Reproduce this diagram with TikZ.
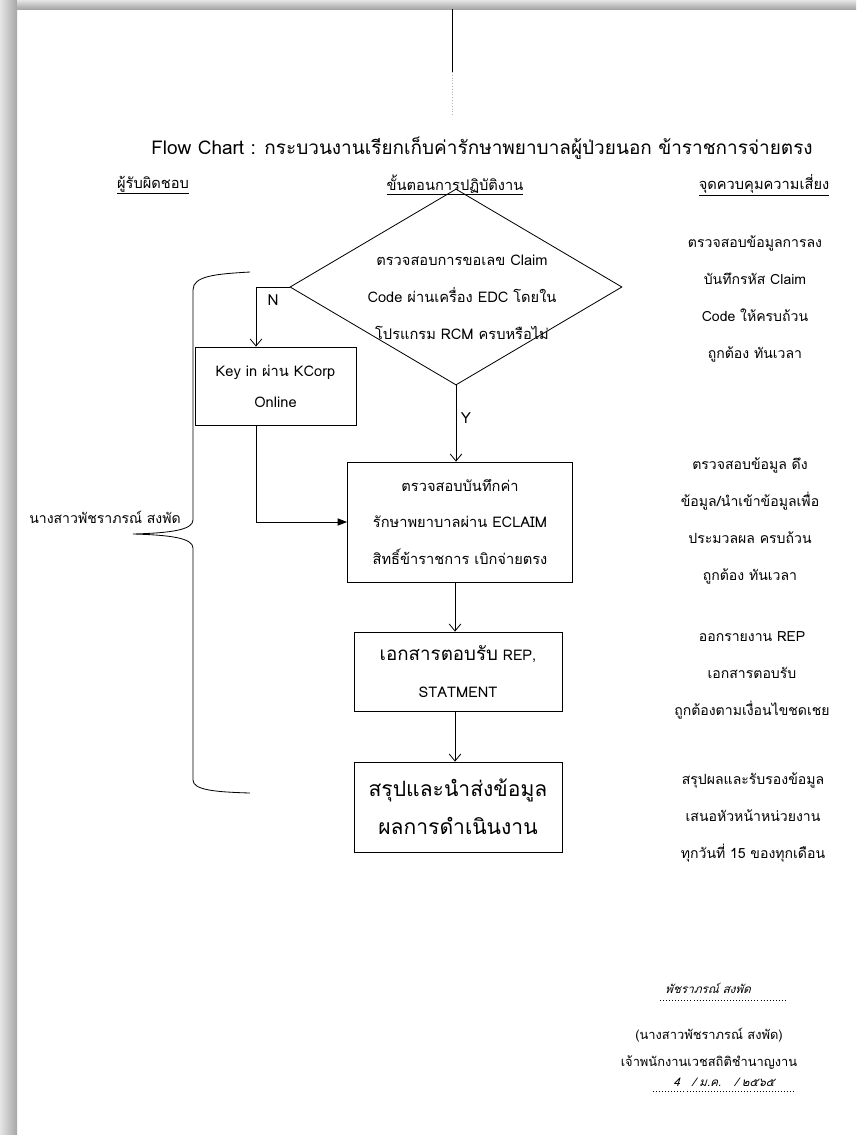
\documentclass[tikz,border=0pt]{standalone}
\usepackage{fontspec}
\setmainfont[Script=Thai]{Loma}
\newfontfamily\handfont[Script=Thai,FakeSlant=0.3]{Loma}
\usetikzlibrary{arrows.meta,shapes.geometric}

\tikzset{
  box/.style={draw,line width=0.7pt,rectangle,inner sep=0pt},
  txt/.style={align=center,font=\fontsize{12.5pt}{31.5pt}\selectfont},
  risk/.style={align=center,font=\fontsize{12pt}{31.5pt}\selectfont},
  hdr/.style={font=\fontsize{12.5pt}{15pt}\selectfont},
  flow/.style={line width=0.7pt,-{Straight Barb[length=6pt,width=10pt]}},
  flowtri/.style={line width=0.7pt,-{Triangle[length=8pt,width=6pt]}}
}

\begin{document}
\begin{tikzpicture}[x=0.03cm,y=-0.03cm]
		\useasboundingbox (0,0) rectangle (856,1135);
		\fill[white] (0,0) rectangle (856,1135);
		% scan shadow
		\shade[left color=gray!20,right color=gray!70] (0,0) rectangle (17,1135);
		\shade[top color=gray!20,bottom color=gray!70] (17,0) rectangle (856,9);
		\draw[line width=0.6pt] (452,9)--(452,72);
		\draw[gray!60,dotted] (452,72)--(452,115);
		\node[font=\fontsize{16.2pt}{20pt}\selectfont] (title) at (482,148) {Flow Chart : กระบวนงานเรียกเก็บค่ารักษาพยาบาลผู้ป่วยนอก ข้าราชการจ่ายตรง};
		\node[hdr] (h1) at (153,185) {\underline{ผู้รับผิดชอบ}};
		\node[hdr] (h2) at (455,185) {\underline{ขั้นตอนการปฏิบัติงาน}};
		\node[hdr] (h3) at (764,185) {\underline{จุดควบคุมความเสี่ยง}};
		% flow
		\node[draw,line width=0.7pt,diamond,inner sep=0pt,minimum width=9.96cm,minimum height=5.88cm] (dec) at (456,287) {};
		\node[txt] (dectxt) at (462,297) {ตรวจสอบการขอเลข Claim\\Code ผ่านเครื่อง EDC โดยใน\\โปรแกรม RCM ครบหรือไม่};
		\node[box,txt,font=\fontsize{12.5pt}{26.5pt}\selectfont,minimum width=4.83cm,minimum height=2.34cm] (key) at (275.5,386) {Key in ผ่าน KCorp\\Online};
		\node[box,txt,minimum width=6.75cm,minimum height=3.6cm] (chk) at (460,522) {ตรวจสอบบันทึกค่า\\รักษาพยาบาลผ่าน ECLAIM\\สิทธิ์ข้าราชการ เบิกจ่ายตรง};
		\node[box,txt,minimum width=6.24cm,minimum height=2.37cm] (rep) at (458,671.5) {{\fontsize{16pt}{20pt}\selectfont เอกสารตอบรับ} REP,\\STATMENT};
		\node[box,txt,font=\fontsize{18pt}{32.5pt}\selectfont,minimum width=6.24cm,minimum height=2.7cm] (sum) at (458,807) {สรุปและนำส่งข้อมูล\\ผลการดำเนินงาน};
		\coordinate (nturn) at (256,287);
		\coordinate (ax) at (455,0);
		\draw[flow] (dec.west)--(nturn)--(nturn |- key.north);
		\node[font=\fontsize{13pt}{15pt}\selectfont] (nlab) at (273,300) {N};
		\draw[flow] (dec.south)--(dec.south |- chk.north);
		\node[font=\fontsize{13pt}{15pt}\selectfont] (ylab) at (466,418) {Y};
		\draw[flowtri] (nturn |- key.south) |- (chk.west);
		\draw[flow] (chk.south -| ax)--(rep.north -| ax);
		\draw[flow] (rep.south -| ax)--(sum.north -| ax);
		% responsible
		\coordinate (tip) at (133,534);
		\draw[line width=0.7pt] (250,272) .. controls (215,274) and (193,276) .. (193,290)--(193,520) .. controls (193,530) and (170,533) .. (tip) .. controls (170,535) and (193,538) .. (193,548)--(193,780) .. controls (193,790) and (215,792) .. (250,793);
		\node[risk] (who) at (105,517) {นางสาวพัชราภรณ์ สงพัด};
		% risk control
		\node[risk] (r1) at (755,299) {ตรวจสอบข้อมูลการลง\\บันทึกรหัส Claim\\Code ให้ครบถ้วน\\ถูกต้อง ทันเวลา};
		\node[risk] (r2) at (750,521) {ตรวจสอบข้อมูล ดึง\\ข้อมูล/นำเข้าข้อมูลเพื่อ\\ประมวลผล ครบถ้วน\\ถูกต้อง ทันเวลา};
		\node[risk] (r3) at (752,675.5) {ออกรายงาน REP\\เอกสารตอบรับ\\ถูกต้องตามเงื่อนไขชดเชย};
		\node[risk] (r4) at (753,817.5) {สรุปผลและรับรองข้อมูล\\เสนอหัวหน้าหน่วยงาน\\ทุกวันที่ 15 ของทุกเดือน};
		% signature
		\node[font=\handfont\fontsize{10pt}{12pt}\selectfont] (sign) at (708,988) {พัชราภรณ์ สงพัด};
		\draw[dotted,line width=0.6pt] (660,1000)--(785,1000);
		\node[font=\fontsize{11pt}{23pt}\selectfont,align=center] (name) at (709,1049) {(นางสาวพัชราภรณ์ สงพัด)\\เจ้าพนักงานเวชสถิติชำนาญงาน};
		\node[font=\handfont\fontsize{10pt}{12pt}\selectfont] (date) at (724,1082) {4 \ \ / ม.ค. \ \ / ๒๕๖๕};
		\draw[dotted,line width=0.6pt] (653,1091)--(795,1091);
\end{tikzpicture}
\end{document}
